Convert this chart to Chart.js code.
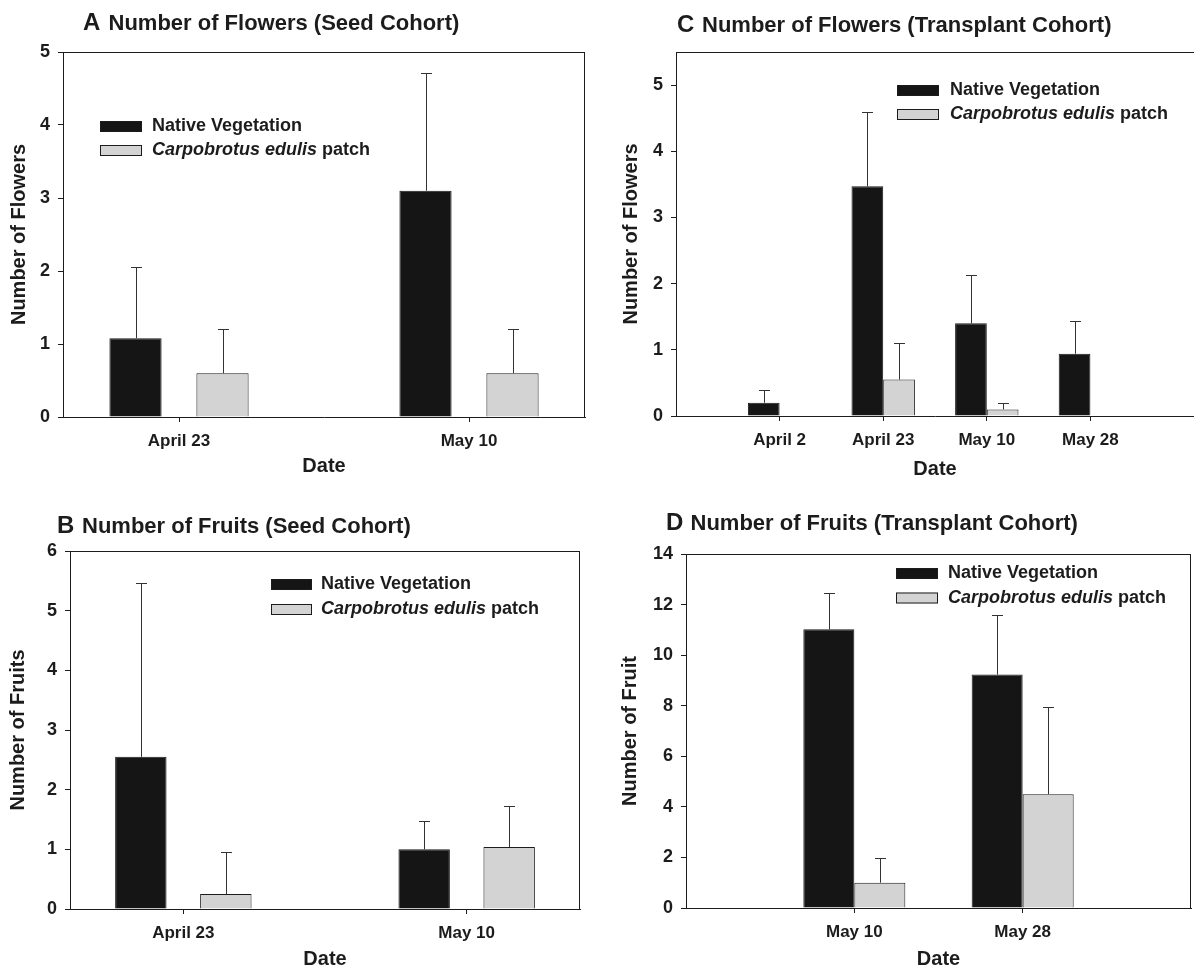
<!DOCTYPE html>
<html>
<head>
<meta charset="utf-8">
<title>Flowers and fruits</title>
<script src="https://cdn.jsdelivr.net/npm/chart.js@4.4.1/dist/chart.umd.min.js"></script>
<style>
    html, body { margin: 0; padding: 0; background: #fff; }
    body { width: 1194px; height: 969px; position: relative; overflow: hidden; }
    canvas { position: absolute; }
</style>
</head>
<body>
<canvas id="panelA" width="597" height="490" style="left:0;top:0"></canvas>
<canvas id="panelC" width="597" height="490" style="left:597px;top:0"></canvas>
<canvas id="panelB" width="597" height="489" style="left:0;top:480px"></canvas>
<canvas id="panelD" width="597" height="489" style="left:597px;top:480px"></canvas>
<script>
// dates on the x axis
const seedDates = ['April 23', 'May 10'];
const transplantFlowerDates = ['April 2', 'April 23', 'May 10', 'May 28'];
const transplantFruitDates = ['May 10', 'May 28'];

// A - flowers, seed cohort (mean and SE)
const flowersSeedNative = [1.08, 3.10];
const flowersSeedNativeSE = [0.98, 1.61];
const flowersSeedCarpo = [0.60, 0.60];
const flowersSeedCarpoSE = [0.60, 0.60];

// B - fruits, seed cohort
const fruitsSeedNative = [2.55, 1.00];
const fruitsSeedNativeSE = [2.92, 0.47];
const fruitsSeedCarpo = [0.25, 1.04];
const fruitsSeedCarpoSE = [0.70, 0.68];

// C - flowers, transplant cohort
const flowersTransNative = [0.20, 3.47, 1.40, 0.94];
const flowersTransNativeSE = [0.20, 1.13, 0.73, 0.49];
const flowersTransCarpo = [0, 0.55, 0.10, 0];
const flowersTransCarpoSE = [0, 0.55, 0.10, 0];

// D - fruits, transplant cohort
const fruitsTransNative = [11.02, 9.23];
const fruitsTransNativeSE = [1.45, 2.34];
const fruitsTransCarpo = [1.00, 4.50];
const fruitsTransCarpoSE = [0.99, 3.44];

const FONT = "'Liberation Sans', Arial, Helvetica, sans-serif";
const INK = '#1c1c1c';
const BLACK_FILL = '#151515';
const GREY_FILL = '#d3d3d3';

Chart.defaults.font.family = FONT;
Chart.defaults.color = INK;

// top and right edge of the plot box
const frame = {
    id: 'frame',
    beforeDatasetsDraw(chart, args, opts) {
        const { left, top, right, bottom } = chart.chartArea;
        const ctx = chart.ctx;
        ctx.save();
        ctx.strokeStyle = INK;
        ctx.lineWidth = 1;
        ctx.beginPath();
        ctx.moveTo(left, top + 0.5);
        ctx.lineTo(right, top + 0.5);
        if (opts.right) {
            ctx.moveTo(right - 0.5, top);
            ctx.lineTo(right - 0.5, bottom);
        }
        ctx.stroke();
        ctx.restore();
    }
};

// upper error bars (mean + SE)
const errorBars = {
    id: 'errorBars',
    afterDatasetsDraw(chart, args, opts) {
        const ctx = chart.ctx;
        const yScale = chart.scales.y;
        ctx.save();
        ctx.strokeStyle = opts.color;
        ctx.lineWidth = 1;
        chart.data.datasets.forEach((ds, di) => {
            const meta = chart.getDatasetMeta(di);
            meta.data.forEach((bar, i) => {
                const err = ds.errors[i];
                if (!err) return;
                const top = Math.round(yScale.getPixelForValue(ds.data[i].y + err)) + 0.5;
                const x = Math.round(bar.x) + 0.5;
                ctx.beginPath();
                ctx.moveTo(x, bar.y);
                ctx.lineTo(x, top);
                ctx.moveTo(x - opts.cap / 2, top);
                ctx.lineTo(x + opts.cap / 2, top);
                ctx.stroke();
            });
        });
        ctx.restore();
    }
};

// legend with the species name in italics
const legendParts = [
    [{ text: 'Native Vegetation' }],
    [{ text: 'Carpobrotus edulis', italic: true }, { text: ' patch' }]
];

const boxLegend = {
    id: 'boxLegend',
    afterDraw(chart, args, opts) {
        const ctx = chart.ctx;
        ctx.save();
        chart.data.datasets.forEach((ds, i) => {
            const y = opts.y + i * opts.gap;
            ctx.fillStyle = ds.backgroundColor;
            ctx.fillRect(opts.x, y, opts.w, opts.h);
            ctx.strokeStyle = INK;
            ctx.lineWidth = 1;
            ctx.strokeRect(opts.x + 0.5, y + 0.5, opts.w - 1, opts.h - 1);
            let tx = opts.textX;
            ctx.fillStyle = INK;
            ctx.textBaseline = 'middle';
            legendParts[i].forEach(part => {
                ctx.font = (part.italic ? 'italic ' : '') + 'bold 18px ' + FONT;
                ctx.fillText(part.text, tx, y + opts.h / 2);
                tx += ctx.measureText(part.text).width;
            });
        });
        ctx.restore();
    }
};

const panelTitle = {
    id: 'panelTitle',
    afterDraw(chart, args, opts) {
        const ctx = chart.ctx;
        ctx.save();
        ctx.fillStyle = INK;
        ctx.textBaseline = 'alphabetic';
        ctx.font = 'bold 24px ' + FONT;
        ctx.fillText(opts.letter, opts.x, opts.y);
        ctx.font = 'bold 22px ' + FONT;
        ctx.fillText(opts.text, opts.textX, opts.y);
        ctx.restore();
    }
};

function makePanel(id, cfg) {
    const xs = cfg.labels.map((_, i) => i + 1);
    const titleFont = { size: 20, weight: 'bold', lineHeight: 1 };
    const grid = { offset: false, drawOnChartArea: false, drawTicks: true, tickLength: 5, color: INK };
    const border = { display: true, color: INK, width: 1 };

    return new Chart(document.getElementById(id), {
        type: 'bar',
        data: {
            datasets: [{
                label: 'Native Vegetation',
                data: xs.map((x, i) => ({ x, y: cfg.native[i] })),
                errors: cfg.nativeSE,
                backgroundColor: BLACK_FILL,
                borderColor: INK,
                borderWidth: 1
            }, {
                label: 'Carpobrotus edulis patch',
                data: xs.map((x, i) => ({ x, y: cfg.carpo[i] })),
                errors: cfg.carpoSE,
                backgroundColor: GREY_FILL,
                borderColor: INK,
                borderWidth: 1
            }]
        },
        options: {
            responsive: false,
            animation: false,
            categoryPercentage: cfg.catPct,
            barPercentage: cfg.barPct,
            layout: { padding: cfg.padding },
            plugins: {
                legend: { display: false },
                tooltip: { enabled: false },
                frame: { right: cfg.frameRight },
                errorBars: { cap: 11, color: '#333' },
                boxLegend: cfg.legend,
                panelTitle: cfg.title
            },
            scales: {
                x: {
                    type: 'linear',
                    min: cfg.xMin,
                    max: cfg.xMax,
                    offset: false,
                    afterBuildTicks: s => { s.ticks = xs.map(v => ({ value: v })); },
                    afterFit: s => { s.height = cfg.xHeight; },
                    ticks: {
                        autoSkip: false,
                        maxRotation: 0,
                        padding: 9,
                        font: { size: 17, weight: 'bold' },
                        color: INK,
                        callback: (v, i) => cfg.labels[i]
                    },
                    grid: grid,
                    border: border,
                    title: { display: true, text: 'Date', font: titleFont, padding: 0, color: INK }
                },
                y: {
                    min: 0,
                    max: cfg.yMax,
                    afterFit: s => { s.width = cfg.yWidth; },
                    ticks: {
                        stepSize: cfg.yStep,
                        includeBounds: false,
                        padding: 8,
                        font: { size: 18, weight: 'bold' },
                        color: INK
                    },
                    grid: grid,
                    border: border,
                    title: {
                        display: true,
                        text: cfg.yTitle,
                        font: titleFont,
                        padding: { top: cfg.yTitlePad, bottom: 0 },
                        color: INK
                    }
                }
            }
        },
        plugins: [frame, errorBars, boxLegend, panelTitle]
    });
}

makePanel('panelA', {
    labels: seedDates,
    native: flowersSeedNative, nativeSE: flowersSeedNativeSE,
    carpo: flowersSeedCarpo, carpoSE: flowersSeedCarpoSE,
    xMin: 0.6, xMax: 2.4, catPct: 0.6, barPct: 0.6,
    padding: { left: 0, top: 52, right: 12, bottom: 14 },
    yWidth: 63, xHeight: 59,
    yMax: 5, yStep: 1, yTitle: 'Number of Flowers', yTitlePad: 9,
    frameRight: true,
    legend: { x: 100, y: 121, gap: 24, w: 42, h: 11, textX: 152 },
    title: { letter: 'A', x: 83, textX: 108.5, y: 29.5, text: 'Number of Flowers (Seed Cohort)' }
});

makePanel('panelC', {
    labels: transplantFlowerDates,
    native: flowersTransNative, nativeSE: flowersTransNativeSE,
    carpo: flowersTransCarpo, carpoSE: flowersTransCarpoSE,
    xMin: 0, xMax: 5, catPct: 0.612, barPct: 1,
    padding: { left: 0, top: 52, right: 0, bottom: 11 },
    yWidth: 79, xHeight: 63,
    yMax: 5.5, yStep: 1, yTitle: 'Number of Flowers', yTitlePad: 24.5,
    frameRight: false,
    legend: { x: 300, y: 85, gap: 24, w: 42, h: 11, textX: 353 },
    title: { letter: 'C', x: 80, textX: 105, y: 32, text: 'Number of Flowers (Transplant Cohort)' }
});

makePanel('panelB', {
    labels: seedDates,
    native: fruitsSeedNative, nativeSE: fruitsSeedNativeSE,
    carpo: fruitsSeedCarpo, carpoSE: fruitsSeedCarpoSE,
    xMin: 0.6, xMax: 2.4, catPct: 0.6, barPct: 0.605,
    padding: { left: 0, top: 71, right: 17, bottom: 0 },
    yWidth: 70, xHeight: 60,
    yMax: 6, yStep: 1, yTitle: 'Number of Fruits', yTitlePad: 8.7,
    frameRight: true,
    legend: { x: 271, y: 99, gap: 25, w: 41, h: 11, textX: 321 },
    title: { letter: 'B', x: 57, textX: 82, y: 53, text: 'Number of Fruits (Seed Cohort)' }
});

makePanel('panelD', {
    labels: transplantFruitDates,
    native: fruitsTransNative, nativeSE: fruitsTransNativeSE,
    carpo: fruitsTransCarpo, carpoSE: fruitsTransCarpoSE,
    xMin: 0, xMax: 3, catPct: 0.606, barPct: 1,
    padding: { left: 0, top: 74, right: 3, bottom: 0 },
    yWidth: 89, xHeight: 61,
    yMax: 14, yStep: 2, yTitle: 'Number of Fruit', yTitlePad: 23.5,
    frameRight: true,
    legend: { x: 299, y: 88, gap: 24.5, w: 42, h: 11, textX: 351 },
    title: { letter: 'D', x: 69, textX: 93.5, y: 50, text: 'Number of Fruits (Transplant Cohort)' }
});
</script>
</body>
</html>
